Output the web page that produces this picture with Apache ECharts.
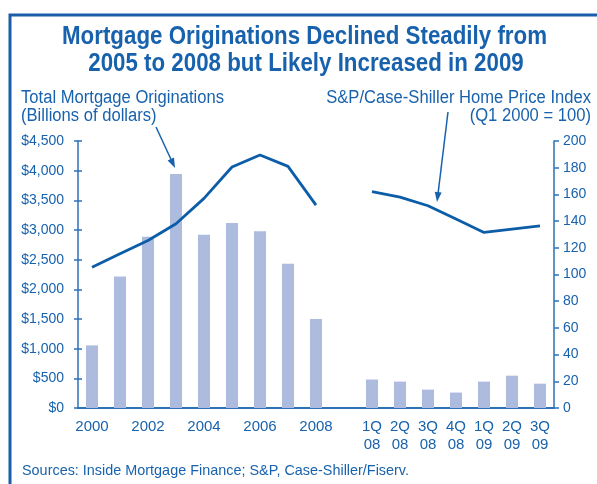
<!DOCTYPE html>
<html>
<head>
<meta charset="utf-8">
<script src="https://cdn.jsdelivr.net/npm/echarts@6/dist/echarts.min.js"></script>
<style>
  html, body { margin: 0; padding: 0; background: #fff; }
  #chart { width: 597px; height: 484px; }
</style>
</head>
<body>
<div id="chart"></div>
<script>
// categories (empty slot separates annual and quarterly data)
var categories = ['2000', '2001', '2002', '2003', '2004', '2005', '2006', '2007', '2008', '',
  '1Q08', '2Q08', '3Q08', '4Q08', '1Q09', '2Q09', '3Q09'];
var tickLabels = ['2000', '', '2002', '', '2004', '', '2006', '', '2008', '',
  '1Q\n08', '2Q\n08', '3Q\n08', '4Q\n08', '1Q\n09', '2Q\n09', '3Q\n09'];

// total mortgage originations, billions of dollars
var originations = [1055, 2215, 2885, 3945, 2920, 3120, 2980, 2430, 1500, null,
  480, 445, 310, 260, 445, 545, 410];

// S&P/Case-Shiller home price index (Q1 2000 = 100)
var homePriceIndex = [105.5, 115.5, 125.5, 138, 157, 180.5, 189.5, 181, 152, null,
  162, 158, 151.5, 141.5, 131.5, 134, 136.5];

var leftTicks = { min: 0, max: 4500, interval: 500 };
var rightTicks = { min: 0, max: 200, interval: 20 };

var BLUE = '#1862ad';
var AXIS = '#2d72b9';
var BAR = '#adbbdf';
var SANS = '"Liberation Sans", Arial, sans-serif';

var chart = echarts.init(document.getElementById('chart'), null, { renderer: 'canvas' });

// condensed look: draw a regular face squeezed horizontally to the width it has in the picture
var measureCtx = document.createElement('canvas').getContext('2d');
function squeeze(font, text, width) {
  measureCtx.font = font;
  return width / measureCtx.measureText(text).width;
}
function label(text, font, x, y, align, sx) {
  return {
    type: 'text', x: x, y: y, scaleX: sx, z: 50,
    style: { text: text, x: 0, y: 0, font: font, fill: BLUE, textAlign: align, textVerticalAlign: 'middle' }
  };
}

function arrow(x1, y1, x2, y2) {
  var dx = x2 - x1, dy = y2 - y1;
  var len = Math.sqrt(dx * dx + dy * dy);
  var ux = dx / len, uy = dy / len;
  var hl = 10, hw = 3.5;
  var bx = x2 - ux * hl, by = y2 - uy * hl;
  return [
    { type: 'line', shape: { x1: x1, y1: y1, x2: bx + ux * 2, y2: by + uy * 2 },
      style: { stroke: BLUE, lineWidth: 1.5 }, z: 100 },
    { type: 'polygon', shape: { points: [[x2, y2], [bx - uy * hw, by + ux * hw], [bx + uy * hw, by - ux * hw]] },
      style: { fill: BLUE }, z: 100 }
  ];
}

var titleFont = 'bold 25px ' + SANS;
var titleLine1 = 'Mortgage Originations Declined Steadily from';
var titleLine2 = '2005 to 2008 but Likely Increased in 2009';
var titleScale = squeeze(titleFont, titleLine1, 485);

var nameFont = '18px ' + SANS;
var leftName1 = 'Total Mortgage Originations';
var leftName2 = '(Billions of dollars)';
var rightName1 = 'S&P/Case-Shiller Home Price Index';
var rightName2 = '(Q1 2000 = 100)';
var nameScale = squeeze(nameFont, leftName1, 203);

var sourceFont = '15px ' + SANS;
var sourceText = 'Sources: Inside Mortgage Finance; S&P, Case-Shiller/Fiserv.';
var sourceScale = squeeze(sourceFont, sourceText, 387);

var option = {
  animation: false,
  backgroundColor: '#fff',
  grid: { left: 78, right: 43, top: 141, bottom: 76 },
  xAxis: [
    {
      type: 'category',
      data: categories,
      position: 'bottom',
      axisLine: { lineStyle: { color: AXIS, width: 2 } },
      axisTick: { interval: 0, length: 5, lineStyle: { color: AXIS, width: 1.5 } },
      axisLabel: {
        interval: 0,
        margin: 10,
        color: BLUE,
        fontFamily: SANS,
        fontSize: 15,
        lineHeight: 18,
        formatter: function (v, i) { return tickLabels[i]; }
      }
    },
    {
      type: 'category',
      data: categories,
      position: 'bottom',
      axisLine: { show: false },
      axisTick: { interval: 0, inside: true, length: 5, lineStyle: { color: AXIS, width: 1.5 } },
      axisLabel: { show: false }
    }
  ],
  yAxis: [
    {
      type: 'value',
      position: 'left',
      min: leftTicks.min, max: leftTicks.max, interval: leftTicks.interval,
      axisLine: { show: true, lineStyle: { color: AXIS, width: 1.5 } },
      axisTick: { show: true, length: 4, lineStyle: { color: AXIS, width: 1.5 } },
      splitLine: { show: false },
      axisLabel: {
        margin: 14,
        color: BLUE,
        fontFamily: SANS,
        fontSize: 14,
        formatter: function (v) { return '$' + v.toLocaleString('en-US'); }
      }
    },
    {
      type: 'value',
      position: 'right',
      min: rightTicks.min, max: rightTicks.max, interval: rightTicks.interval,
      axisLine: { show: true, lineStyle: { color: AXIS, width: 1.5 } },
      axisTick: { show: true, length: 5, lineStyle: { color: AXIS, width: 1.5 } },
      splitLine: { show: false },
      axisLabel: { margin: 9, color: BLUE, fontFamily: SANS, fontSize: 14 }
    },
    {
      type: 'value',
      position: 'left',
      min: leftTicks.min, max: leftTicks.max, interval: leftTicks.interval,
      axisLine: { show: false },
      axisTick: { show: true, inside: true, length: 4, lineStyle: { color: AXIS, width: 1.5 } },
      splitLine: { show: false },
      axisLabel: { show: false }
    }
  ],
  series: [
    {
      name: 'Total Mortgage Originations',
      type: 'bar',
      yAxisIndex: 0,
      barWidth: 12,
      itemStyle: { color: BAR },
      data: originations
    },
    {
      name: 'S&P/Case-Shiller Home Price Index',
      type: 'line',
      yAxisIndex: 1,
      symbol: 'none',
      connectNulls: false,
      lineStyle: { color: '#0c5da8', width: 2.8 },
      data: homePriceIndex,
      z: 5
    }
  ],
  graphic: [
    { type: 'rect', shape: { x: 10, y: 15, width: 700, height: 600 },
      style: { fill: 'none', stroke: '#1a5ea9', lineWidth: 3 } },
    label(titleLine1, titleFont, 304.5, 37, 'center', titleScale),
    label(titleLine2, titleFont, 306, 64, 'center', titleScale),
    label(leftName1, nameFont, 21, 98, 'left', nameScale),
    label(leftName2, nameFont, 21, 116, 'left', nameScale),
    label(rightName1, nameFont, 591, 98, 'right', nameScale),
    label(rightName2, nameFont, 591, 116, 'right', nameScale),
    label(sourceText, sourceFont, 22, 471, 'left', sourceScale)
  ].concat(arrow(156, 127, 175, 168)).concat(arrow(448, 112, 437, 202))
};

chart.setOption(option);
</script>
</body>
</html>
